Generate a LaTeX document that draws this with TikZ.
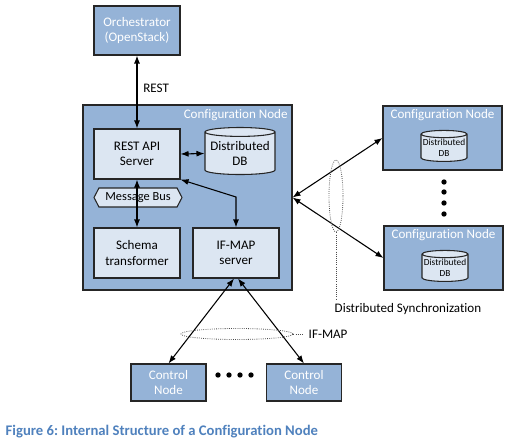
\documentclass[tikz,border=0pt]{standalone}
\usepackage{fontspec}
\setmainfont{Carlito}[Ligatures=NoCommon]
\frenchspacing
\usetikzlibrary{
  arrows.meta,
  shapes.geometric,
  shapes.symbols
}
\definecolor{nodeblue}{RGB}{149,179,215}
\definecolor{paleblue}{RGB}{220,230,242}
\definecolor{captionblue}{RGB}{79,129,189}
\tikzset{
  >={Latex[length=6pt,width=4.5pt]},
  link/.style={<->,line width=0.8pt,draw=black},
  outer box/.style={
    draw=black!85,
    fill=nodeblue,
    line width=0.8pt,
    text=white,
    align=center,
    inner sep=0pt
  },
  inner box/.style={
    draw=black!85,
    fill=paleblue,
    line width=0.8pt,
    align=center,
    inner sep=0pt,
    minimum width=64.5pt,
    minimum height=37.5pt
  },
  db/.style={
    cylinder,
    shape border rotate=90,
    draw=black!85,
    fill=paleblue,
    line width=0.8pt,
    align=center,
    inner sep=0pt
  },
  ring/.style={ellipse,draw=black!70,densely dotted,line width=0.6pt,inner sep=0pt},
  dot/.style={circle,fill=black,inner sep=0pt,minimum size=4pt},
  lbl/.style={font=\fontsize{9.8}{11.5}\selectfont,align=center}
}

\begin{document}
\begin{tikzpicture}[x=0.75pt,y=-0.75pt,font=\fontsize{9.8}{11.5}\selectfont]
  \useasboundingbox (0,0) rectangle (513,442);

  \node[outer box,minimum width=64.5pt,minimum height=36.75pt] (orch) at (137,30.5)
    {Orchestrator\\(OpenStack)};

  % main configuration node
  \node[outer box,minimum width=156.75pt,minimum height=138.75pt,
    label={[anchor=north east,text=white,inner sep=3.5pt]north east:Configuration Node}] (cfg) at (187.5,197.5) {};
  \node[inner box] (api) at (137,154) {REST API\\Server};
  \node[db,minimum width=52.5pt,minimum height=35.25pt,aspect=0.15] (ddb) at (240,153.5) {Distributed\\DB};
  \node[signal,signal to=west and east,signal pointer angle=125,draw=black!85,fill=paleblue,
    line width=0.8pt,minimum width=66pt,minimum height=14.25pt,inner sep=0pt,
    font=\fontsize{9.3}{11}\selectfont] (bus) at (138,197.5) {Message Bus};
  \node[inner box] (schema) at (137,253) {Schema\\transformer};
  \node[inner box] (ifmap) at (236,253) {IF-MAP\\server};
  \coordinate (bend) at (236,197);

  % peer configuration nodes
  \node[outer box,minimum width=89.25pt,minimum height=48pt,
    label={[anchor=north,text=white,inner sep=3pt]north:Configuration Node}] (peerA) at (442.5,138) {};
  \node[db,minimum width=34.5pt,minimum height=23.25pt,aspect=0.17,
    font=\fontsize{7}{8}\selectfont] (peerAdb) at (444,148) {Distributed\\DB};
  \node[outer box,minimum width=89.25pt,minimum height=48pt,
    label={[anchor=north,text=white,inner sep=3pt]north:Configuration Node}] (peerB) at (443.5,258) {};
  \node[db,minimum width=34.5pt,minimum height=23.25pt,aspect=0.17,
    font=\fontsize{7}{8}\selectfont] (peerBdb) at (445,268) {Distributed\\DB};
  \foreach \y/\n in {182/1,192/2,203/3,214/4}
    \node[dot] (vdot\n) at (444,\y) {};

  % control nodes
  \node[outer box,minimum width=56.25pt,minimum height=27.75pt] (ctlA) at (168.5,382.5) {Control\\Node};
  \node[outer box,minimum width=56.25pt,minimum height=27.75pt] (ctlB) at (304,382.5) {Control\\Node};
  \foreach \x/\n in {218/1,229/2,240/3,251/4}
    \node[dot] (hdot\n) at (\x,375) {};

  % connectors
  \draw[link] (api.north) -- (orch.south)
    node[lbl,pos=0.55,anchor=west,xshift=1pt] {REST};
  \draw[link] (api.east) -- (ddb.west);
  \draw[link] (api.south) -- (schema.north);
  \draw[link] (api.south east) -- (bend) -- (ifmap.north);
  \draw[link] (cfg.east) -- (peerA.west);
  \draw[link] (cfg.east) -- (peerB.west);
  \draw[link] ([xshift=-1.5pt]ifmap.south) -- (ctlA.north);
  \draw[link] ([xshift=1.5pt]ifmap.south) -- (ctlB.north);

  % synchronisation rings
  \node[ring,minimum width=10.5pt,minimum height=54pt] (syncring) at (336,196) {};
  \node[lbl,anchor=north] (synclbl) at (408,299) {Distributed Synchronization};
  \draw[densely dotted,line width=0.6pt,black!70] (syncring.south) -- (synclbl.north -| syncring.south);
  \node[ring,minimum width=84pt,minimum height=8.25pt] (ifmapring) at (237,334) {};
  \node[lbl,anchor=west] (ifmaplbl) at (304,334) {IF-MAP};
  \draw[densely dotted,line width=0.6pt,black!70] (ifmapring.east) -- (ifmaplbl.west);

  \node[anchor=west,text=captionblue,font=\fontsize{11}{13}\selectfont\bfseries] (caption) at (1,432)
    {Figure 6: Internal Structure of a Configuration Node};
\end{tikzpicture}
\end{document}
